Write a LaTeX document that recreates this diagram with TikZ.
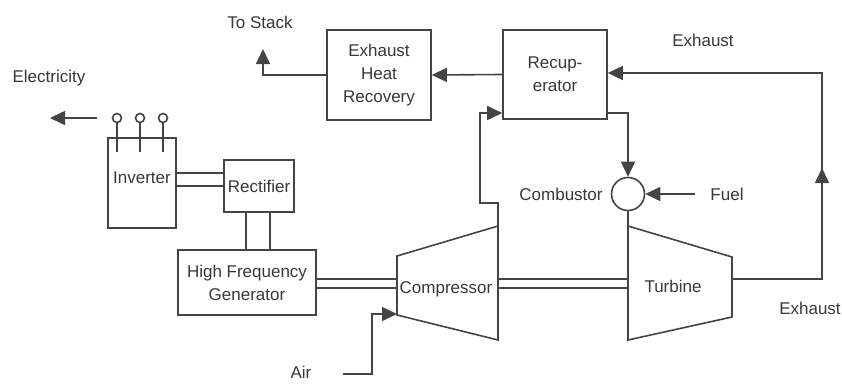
\documentclass[tikz,border=0pt]{standalone}
\usepackage{fontspec}
\setmainfont{Liberation Sans}
\usetikzlibrary{arrows.meta}
\definecolor{lc}{HTML}{444444}
\definecolor{tc}{HTML}{383838}
\begin{document}
\begin{tikzpicture}[x=1pt,y=-1pt,
  ln/.style={draw=lc, line width=1.6pt},
  arr/.style={ln, -{Triangle[length=15pt,width=14pt]}},
  txt/.style={font=\fontsize{17}{23}\selectfont, text=tc, align=center, inner sep=0pt},
  box/.style={ln, txt, rectangle},
  term/.style={ln, circle, minimum size=9pt, inner sep=0pt}
]
\fill[white] (0,0) rectangle (842,383);
\useasboundingbox (0,0) rectangle (842,383);

% boxes
\node[box, minimum width=68pt, minimum height=90pt] (inv) at (142,183) {};
\node[txt] (invt) at (142,178) {Inverter};
\node[box, minimum width=70pt, minimum height=52pt] (rct) at (259,186) {Rectifier};
\node[box, minimum width=138pt, minimum height=65pt] (hfg) at (247,282.5) {High Frequency\\Generator};
\node[box, minimum width=104pt, minimum height=90pt] (ehr) at (379,75) {Exhaust\\Heat\\Recovery};
\node[box, minimum width=104pt, minimum height=89pt] (rec) at (555,74.5) {Recup-\\erator};
\node[ln, circle, minimum size=33pt, inner sep=0pt] (cmb) at (628,194) {};

% terminals
\node[term] (t1) at (117,118) {};
\node[term] (t2) at (140,118) {};
\node[term] (t3) at (163,118) {};
\draw[ln] (t1.south) -- (t1.south |- 0,152);
\draw[ln] (t2.south) -- (t2.south |- 0,152);
\draw[ln] (t3.south) -- (t3.south |- 0,152);

% compressor and turbine
\coordinate (ctl) at (397,256);
\coordinate (cbl) at (397,315);
\coordinate (ctr) at (498,226);
\coordinate (cbr) at (498,340);
\coordinate (ttl) at (628,226);
\coordinate (tbl) at (628,340);
\coordinate (ttr) at (732,257);
\coordinate (tbr) at (732,317);
\draw[ln, line join=miter] (ctl) -- (ctr) -- (cbr) -- (cbl) -- cycle;
\draw[ln, line join=miter] (ttl) -- (ttr) -- (tbr) -- (tbl) -- cycle;
\node[txt] (cmpt) at (446,289) {Compressor};
\node[txt] (turt) at (673,286) {Turbine};

% labels
\node[txt] (elec) at (49,78) {Electricity};
\node[txt] (stk) at (260,22) {To Stack};
\node[txt] (exh1) at (703,40) {Exhaust};
\node[txt] (exh2) at (810,308) {Exhaust};
\node[txt] (cmbt) at (561,194) {Combustor};
\node[txt] (fuel) at (727,194) {Fuel};
\node[txt] (air) at (301,372) {Air};

% free ends
\coordinate (elecend) at (50,118);
\coordinate (elecstart) at (97,118);
\coordinate (stackend) at (263,49);
\coordinate (fuelstart) at (695,194);
\coordinate (airstart) at (343,374);
\coordinate (exr) at (822,279);

% electrical links
\draw[arr] (elecstart) -- (elecend);
\draw[ln] (inv.east |- 0,173) -- (rct.west |- 0,173);
\draw[ln] (inv.east |- 0,186) -- (rct.west |- 0,186);
\draw[ln] (rct.south -| 246,0) -- (hfg.north -| 246,0);
\draw[ln] (rct.south -| 270,0) -- (hfg.north -| 270,0);
\draw[ln] (hfg.east |- 0,279) -- (ctl |- 0,279);
\draw[ln] (hfg.east |- 0,288) -- (ctl |- 0,288);
\draw[ln] (ctr |- 0,279) -- (ttl |- 0,279);
\draw[ln] (ctr |- 0,288) -- (ttl |- 0,288);

% gas flow
\draw[arr] (airstart) -- (372,374) -- (372,314) -- (ctl |- 0,314);
\draw[arr] (ctr) -- (498,203) -- (480,203) -- (480,113) -- (rec.west |- 0,113);
\draw[arr] (rec.west) -- (ehr.east);
\draw[arr] (ehr.west) -- (stackend |- ehr.west) -- (stackend);
\draw[arr] (rec.east |- 0,113) -- (cmb.north |- 0,113) -- (cmb.north);
\draw[arr] (fuelstart) -- (cmb.east);
\draw[ln] (cmb.south) -- (ttl);
\draw[arr] (ttr |- exr) -- (exr) -- (822,168);
\draw[arr] (822,172) -- (822,73) -- (rec.east |- 0,73);
\end{tikzpicture}
\end{document}
